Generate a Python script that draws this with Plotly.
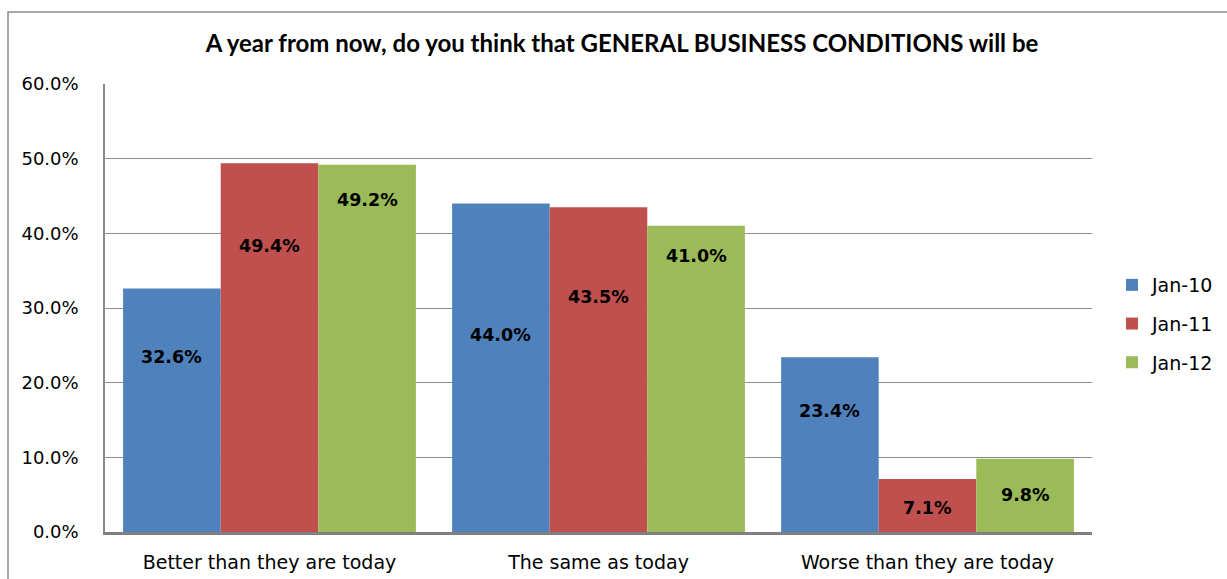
import plotly.graph_objects as go

categories = ["Better than they are today", "The same as today", "Worse than they are today"]
series_names = ["Jan-10", "Jan-11", "Jan-12"]
jan10 = [32.6, 44.0, 23.4]
jan11 = [49.4, 43.5, 7.1]
jan12 = [49.2, 41.0, 9.8]
y_ticks = [0, 10, 20, 30, 40, 50, 60]
title_text = "A year from now, do you think that GENERAL BUSINESS CONDITIONS will be"

# label placement (as fraction of bar height), style only
label_frac = [
    [0.72, 0.60, 0.69],
    [0.775, 0.725, 0.45],
    [0.905, 0.90, 0.51],
]

colors = ["#4F81BD", "#C0504D", "#9BBB59"]
W, H = 1227, 579
ML, MR, MT, MB = 105, 135, 84, 47
PW, PH = W - ML - MR, H - MT - MB

fig = go.Figure()
all_series = [jan10, jan11, jan12]
for i, (name, vals) in enumerate(zip(series_names, all_series)):
    fig.add_trace(go.Bar(
        x=categories, y=vals, name=name, marker_color=colors[i],
        marker_line_width=0, legendgroup=name,
    ))

# data labels as annotations placed over each bar
ncat = len(categories)
cat_w = 1.0 / ncat
bargap = 0.11
bar_w = cat_w * (1 - bargap) / 3
for si, vals in enumerate(all_series):
    for ci, v in enumerate(vals):
        xc = ci * cat_w + cat_w * bargap / 2 + bar_w * (si + 0.5)
        fig.add_annotation(
            x=xc, xref="paper", y=v * label_frac[si][ci], yref="y",
            text=f"<b>{v:.1f}%</b>", showarrow=False,
            font=dict(family="DejaVu Sans", size=17.5, color="black"),
            xanchor="center", yanchor="middle",
        )

# outer chart border (partly off-canvas)
fig.add_shape(
    type="rect", xref="paper", yref="paper",
    x0=(8 - ML) / PW, x1=(W + 10 - ML) / PW,
    y0=(H - MB - (H + 10)) / PH, y1=(H - MB - 12) / PH,
    line=dict(color="#8c8c8c", width=1.5), fillcolor="rgba(0,0,0,0)", layer="below",
)

fig.update_layout(
    width=W, height=H,
    margin=dict(l=ML, r=MR, t=MT, b=MB, autoexpand=False),
    paper_bgcolor="white", plot_bgcolor="white",
    barmode="group", bargap=bargap, bargroupgap=0,
    title=dict(text=f"<b>{title_text}</b>", x=622 / W, xanchor="center",
               y=1 - 44 / H, yanchor="middle",
               font=dict(family="Lato", size=24, color="black")),
    font=dict(family="DejaVu Sans", size=18, color="black"),
    legend=dict(x=(1112 - ML) / PW, xanchor="left", y=(H - MB - 266) / PH, yanchor="top",
                font=dict(family="DejaVu Sans", size=19), tracegroupgap=11,
                bgcolor="rgba(0,0,0,0)"),
    showlegend=True,
)
fig.update_yaxes(
    range=[0, 60], tickvals=y_ticks, ticktext=[f"{t:.1f}%" for t in y_ticks],
    showgrid=True, gridcolor="#8c8c8c", gridwidth=1.3,
    showline=True, linecolor="#8c8c8c", linewidth=1.5,
    ticks="", ticklabelstandoff=21, zeroline=False, automargin=False,
    tickfont=dict(family="DejaVu Sans", size=18),
)
fig.update_xaxes(
    showline=True, linecolor="#808080", linewidth=2.5, ticks="", automargin=False,
    tickfont=dict(family="DejaVu Sans", size=19), ticklabelstandoff=11,
)

fig.write_html("out.html")
